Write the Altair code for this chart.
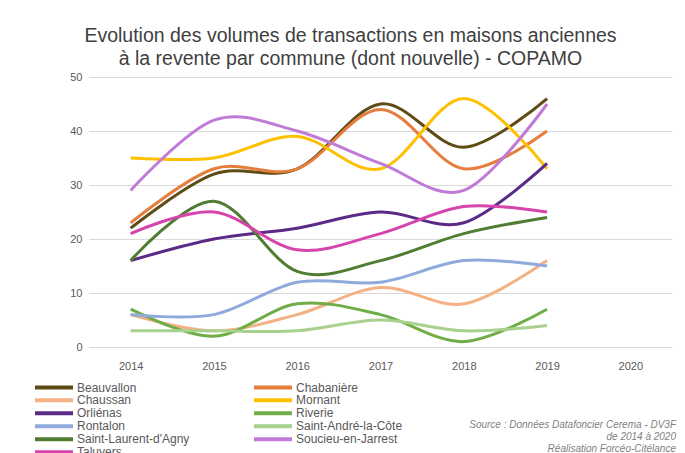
import altair as alt
import pandas as pd

years = ["2014", "2015", "2016", "2017", "2018", "2019", "2020"]
communes = [
    "Beauvallon", "Chabanière", "Chaussan", "Mornant", "Orliénas", "Riverie",
    "Rontalon", "Saint-André-la-Côte", "Saint-Laurent-d'Agny",
    "Soucieu-en-Jarrest", "Taluyers",
]
beauvallon = [22, 32, 33, 45, 37, 46]
chabaniere = [23, 33, 33, 44, 33, 40]
chaussan = [6, 3, 6, 11, 8, 16]
mornant = [35, 35, 39, 33, 46, 33]
orlienas = [16, 20, 22, 25, 23, 34]
riverie = [7, 2, 8, 6, 1, 7]
rontalon = [6, 6, 12, 12, 16, 15]
saint_andre = [3, 3, 3, 5, 3, 4]
saint_laurent = [16, 27, 14, 16, 21, 24]
soucieu = [29, 42, 40, 34, 29, 45]
taluyers = [21, 25, 18, 21, 26, 25]
series = [beauvallon, chabaniere, chaussan, mornant, orlienas, riverie,
          rontalon, saint_andre, saint_laurent, soucieu, taluyers]
colors = ["#5e4b15", "#e57d3c", "#f4b183", "#ffc000", "#5b2a86", "#70ad47",
          "#8faadc", "#a9d18e", "#4f7d31", "#c07ad8", "#d644ad"]

title_lines = ["Evolution des volumes de transactions en maisons anciennes",
               "à la revente par commune (dont nouvelle) - COPAMO"]
source_lines = ["Source : Données Datafoncier Cerema - DV3F",
                "de 2014 à 2020",
                "Réalisation Forcéo-Citélance"]

rows = []
for name, vals in zip(communes, series):
    for y, v in zip(years, vals):
        rows.append({"Année": y, "Commune": name, "Volume": v})
df = pd.DataFrame(rows)

x = alt.X("Année:O", scale=alt.Scale(domain=years, type="point", padding=0.5),
          axis=alt.Axis(title=None, labelAngle=0, ticks=False, domain=False, grid=False,
                        labelPadding=13, labelFontSize=11, labelColor="#595959",
                        labelFont="Liberation Sans"))
y = alt.Y("Volume:Q", scale=alt.Scale(domain=[0, 50], nice=False),
          axis=alt.Axis(title=None, values=[0, 10, 20, 30, 40, 50], ticks=False,
                        domain=False, gridColor="#d9d9d9", gridWidth=1,
                        labelPadding=7, labelFontSize=11, labelColor="#595959",
                        labelFont="Liberation Sans"))

lines = alt.Chart(df).mark_line(interpolate="cardinal", strokeWidth=3).encode(
    x=x, y=y,
    color=alt.Color("Commune:N", scale=alt.Scale(domain=communes, range=colors),
                    legend=alt.Legend(orient="none", legendX=-56, legendY=304,
                                      direction="horizontal",
                                      columns=2, title=None, padding=0,
                                      symbolType="stroke", symbolStrokeWidth=4,
                                      symbolSize=1444, clipHeight=12.7,
                                      rowPadding=0, columnPadding=62,
                                      labelOffset=2, labelFontSize=12,
                                      labelColor="#595959",
                                      labelFont="Liberation Sans Narrow, Liberation Sans")),
)

source = alt.Chart(pd.DataFrame({"t": [0]})).mark_text(
    align="right", baseline="alphabetic", fontStyle="italic", fontSize=10,
    color="#7f7f7f", font="Liberation Sans", lineHeight=12,
).encode(x=alt.value(587), y=alt.value(351), text=alt.value(source_lines))

chart = alt.layer(lines, source).properties(
    width=583, height=270,
    autosize=alt.AutoSizeParams(type="none"),
    padding={"left": 81, "top": 69, "right": 5, "bottom": 110},
    title=alt.TitleParams(text=title_lines, anchor="middle", frame="group", dx=-30,
                          offset=2, fontSize=19.5, fontWeight="normal",
                          color="#404040", font="Liberation Sans", lineHeight=23),
).configure_view(stroke=None)

chart.save("out.html", embed_options={"renderer": "svg", "actions": False})
